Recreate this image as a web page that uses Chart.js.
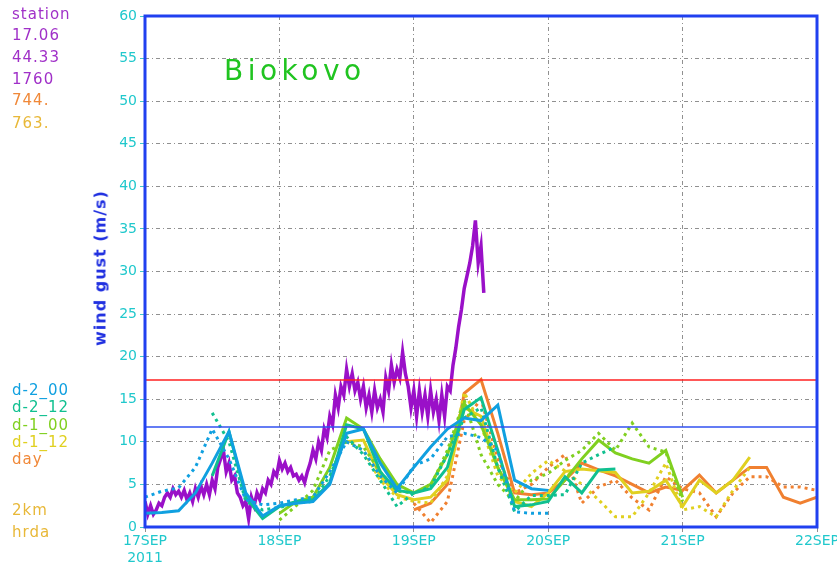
<!DOCTYPE html>
<html>
<head>
<meta charset="utf-8">
<script src="https://cdn.jsdelivr.net/npm/chart.js@4.4.1/dist/chart.umd.min.js"></script>
<style>
body { margin: 0; background: #fff; }
#wrap { position: relative; width: 837px; height: 563px; overflow: hidden; }
canvas { position: absolute; left: 0; top: 0; }
.lbl { position: absolute; font-family: 'DejaVu Sans', sans-serif; font-size: 15px; letter-spacing: 1px; line-height: 18px; white-space: nowrap; }
#title { position: absolute; left: 224px; top: 54px; font-family: 'DejaVu Sans', sans-serif; font-size: 28px; letter-spacing: 4.5px; color: #20c420; }
#ytitle { position: absolute; left: 100px; top: 268px; transform: translate(-50%, -50%) rotate(-90deg); font-family: 'DejaVu Sans', sans-serif; font-weight: bold; font-size: 16px; letter-spacing: 1px; color: #2030e0; white-space: nowrap; }
</style>
</head>
<body>
<div id="wrap">
  <canvas id="chart" width="837" height="563"></canvas>
  <div id="title">Biokovo</div>
  <div id="ytitle">wind gust (m/s)</div>
  <div class="lbl" style="left:12px;top:5px;color:#a030c8">station</div>
  <div class="lbl" style="left:12px;top:26px;color:#a030c8">17.06</div>
  <div class="lbl" style="left:12px;top:48px;color:#a030c8">44.33</div>
  <div class="lbl" style="left:12px;top:70px;color:#a030c8">1760</div>
  <div class="lbl" style="left:12px;top:91px;color:#f08838">744.</div>
  <div class="lbl" style="left:12px;top:114px;color:#e8b838">763.</div>
  <div class="lbl" style="left:12px;top:381px;color:#10a0e0">d-2_00</div>
  <div class="lbl" style="left:12px;top:398px;color:#10c090">d-2_12</div>
  <div class="lbl" style="left:12px;top:416px;color:#80d020">d-1_00</div>
  <div class="lbl" style="left:12px;top:433px;color:#e0d020">d-1_12</div>
  <div class="lbl" style="left:12px;top:450px;color:#f08838">day</div>
  <div class="lbl" style="left:12px;top:501px;color:#e8b838">2km</div>
  <div class="lbl" style="left:12px;top:523px;color:#e8b838">hrda</div>
</div>
<script>
// axis labels
const dayLabels = ['17SEP', '18SEP', '19SEP', '20SEP', '21SEP', '22SEP'];
const yearLabel = '2011';

// warning thresholds (m/s)
const redLevel = [17.25, 17.25];
const blueLevel = [11.75, 11.75];
const levelHours = [0, 120];

// station gusts, every 30 min from 17SEP 00
const stationGust = [
  3.0, 1.5, 2.5, 1.5, 2.0, 2.8, 2.5, 3.5, 4.0, 3.5,
  4.5, 3.8, 4.2, 3.5, 4.3, 3.2, 4.0, 3.0, 4.5, 3.5,
  4.8, 3.8, 5.0, 3.8, 5.5, 4.5, 7.0, 8.0, 9.0, 6.5,
  7.5, 5.5, 6.0, 4.0, 3.5, 2.5, 3.0, 1.0, 3.5, 2.5,
  4.0, 3.2, 4.5, 4.0, 5.5, 5.0, 6.5, 6.0, 7.8, 6.8,
  7.5, 6.5, 7.0, 6.0, 6.2, 5.5, 6.0, 5.2, 6.5, 7.5,
  9.0, 8.0, 10.0, 9.0, 11.5, 10.5, 13.0, 12.0, 15.5, 14.0,
  16.5, 15.5, 18.5, 16.5, 18.0, 16.0, 17.0, 15.0, 16.5, 14.0,
  15.5, 13.5, 16.0, 14.0, 15.0, 13.5, 17.5, 16.0, 19.0, 17.0,
  18.5, 17.5, 20.5, 18.0, 16.5, 14.0, 16.0, 13.0, 16.0, 13.5,
  15.5, 13.0, 16.0, 13.5, 15.0, 12.5, 15.5, 13.0, 16.5, 16.0,
  19.0, 21.0, 23.5, 25.5, 28.0, 29.5, 31.0, 33.0, 36.0, 31.0,
  33.0, 27.5
];

// model runs, 3-hourly values; start hour counted from 17SEP 00
const runStart = [0, 12, 24, 36, 48];
const d2_00_2km  = [1.6, 1.7, 1.9, 4.0, 7.5, 11.2, 4.0, 1.3, 2.5, 2.8, 3.0, 5.0, 11.0, 11.5, 7.5, 4.5, 7.0, 9.4, 11.5, 12.8, 12.5, 14.3, 5.5, 4.5, 4.3];
const d2_00_hrda = [3.5, 4.2, 4.6, 7.0, 11.5, 8.0, 3.2, 2.6, 2.8, 3.2, 3.5, 6.5, 10.0, 9.0, 6.0, 4.0, 7.2, 8.0, 10.6, 11.0, 10.5, 9.0, 1.8, 1.6, 1.6];
const d2_12_2km  = [6.0, 11.2, 3.5, 1.0, 2.4, 3.0, 3.2, 5.2, 12.0, 11.5, 6.5, 4.3, 4.0, 4.5, 7.0, 13.8, 15.2, 9.0, 2.4, 2.6, 3.0, 5.9, 4.0, 6.7, 6.8];
const d2_12_hrda = [13.4, 10.0, 3.0, 2.0, 2.3, 2.8, 3.0, 6.0, 10.6, 8.5, 5.5, 2.4, 4.0, 4.7, 8.5, 12.8, 14.0, 7.0, 1.8, 3.7, 3.7, 3.8, 7.5, 8.5, 9.4];
const d1_00_2km  = [1.6, 3.0, 3.5, 7.0, 12.8, 11.5, 8.0, 5.0, 4.0, 5.0, 8.5, 14.5, 12.0, 7.0, 3.2, 3.2, 3.3, 5.5, 8.0, 10.2, 8.7, 8.0, 7.5, 9.0, 3.5];
const d1_00_hrda = [0.8, 2.5, 4.3, 9.0, 10.0, 9.4, 6.5, 4.2, 4.0, 4.8, 9.0, 14.9, 8.5, 5.0, 3.0, 5.5, 6.3, 7.8, 9.0, 11.0, 9.0, 12.2, 9.4, 8.8, 3.0];
const d1_12_2km  = [10.0, 10.2, 6.0, 3.8, 3.2, 3.5, 5.5, 14.0, 13.0, 7.0, 3.0, 2.4, 4.0, 6.5, 6.8, 6.6, 6.4, 4.0, 4.2, 5.5, 2.4, 5.5, 4.0, 5.5, 8.2];
const d1_12_hrda = [10.0, 9.0, 5.5, 3.5, 3.0, 2.8, 6.0, 15.8, 12.0, 6.0, 4.0, 6.3, 7.8, 6.6, 5.0, 3.2, 1.2, 1.2, 4.0, 7.5, 2.0, 2.4, 1.2, 4.3, 7.0];
const day_2km    = [2.0, 2.8, 5.0, 15.7, 17.3, 11.0, 4.0, 3.8, 4.0, 5.5, 7.5, 6.7, 6.0, 5.0, 4.0, 4.7, 4.3, 6.1, 4.0, 5.5, 7.0, 7.0, 3.5, 2.8, 3.5];
const day_hrda   = [2.8, 0.5, 3.0, 12.5, 15.0, 8.0, 4.0, 5.0, 7.0, 8.5, 2.8, 4.7, 5.5, 3.4, 2.0, 5.9, 4.5, 4.0, 1.2, 4.0, 5.9, 5.9, 4.7, 4.7, 4.3];

const runColors = ['#10a0e0', '#10c090', '#80d020', '#e0d020', '#f08030'];

function toPoints(values, start, step) {
    return values.map((v, i) => ({ x: start + i * step, y: v }));
}

function runSet(values, idx, dotted) {
    return {
        data: toPoints(values, runStart[idx], 3),
        borderColor: runColors[idx],
        borderWidth: 3,
        borderDash: dotted ? [3, 4] : [],
        pointRadius: 0,
        tension: 0,
        order: 2
    };
}

const datasets = [
    runSet(d2_00_2km, 0, false), runSet(d2_00_hrda, 0, true),
    runSet(d2_12_2km, 1, false), runSet(d2_12_hrda, 1, true),
    runSet(d1_00_2km, 2, false), runSet(d1_00_hrda, 2, true),
    runSet(d1_12_2km, 3, false), runSet(d1_12_hrda, 3, true),
    runSet(day_2km, 4, false), runSet(day_hrda, 4, true),
    {
        data: toPoints(stationGust, 0, 0.5),
        borderColor: '#9a10c8',
        borderWidth: 3.5,
        pointRadius: 0,
        order: 3
    },
    {
        data: levelHours.map((h, i) => ({ x: h, y: redLevel[i] })),
        borderColor: '#ff2020',
        borderWidth: 1.5,
        pointRadius: 0,
        order: 1
    },
    {
        data: levelHours.map((h, i) => ({ x: h, y: blueLevel[i] })),
        borderColor: '#3050f0',
        borderWidth: 1.5,
        pointRadius: 0,
        order: 1
    }
];

// blue frame round the plot area
const frame = {
    id: 'frame',
    afterDatasetsDraw(chart) {
        const a = chart.chartArea;
        const ctx = chart.ctx;
        ctx.save();
        ctx.strokeStyle = '#2040f0';
        ctx.lineWidth = 3;
        ctx.strokeRect(a.left, a.top, a.right - a.left, a.bottom - a.top);
        ctx.restore();
    }
};

const tickFont = { family: 'DejaVu Sans', size: 14 };

new Chart(document.getElementById('chart'), {
    type: 'line',
    data: { datasets },
    plugins: [frame],
    options: {
        responsive: false,
        animation: false,
        layout: { padding: { top: 16, right: 20, left: 0, bottom: 0 } },
        plugins: { legend: { display: false }, tooltip: { enabled: false } },
        scales: {
            x: {
                type: 'linear',
                min: 0,
                max: 120,
                afterFit(scale) { scale.height = 36; scale.paddingLeft = 0; scale.paddingRight = 0; },
                ticks: {
                    stepSize: 24,
                    color: '#20c8cc',
                    font: tickFont,
                    padding: 1,
                    maxRotation: 0,
                    autoSkip: false,
                    callback: (v) => {
                        const i = Math.round(v / 24);
                        return i === 0 ? [dayLabels[0], yearLabel] : dayLabels[i];
                    }
                },
                grid: { color: '#909090', lineWidth: 1, tickLength: 5, tickColor: '#909090' },
                border: { display: false, dash: [4, 3, 1, 3] }
            },
            y: {
                min: 0,
                max: 60,
                afterFit(scale) { scale.width = 145; },
                ticks: { stepSize: 5, color: '#20c8cc', font: tickFont, padding: 3 },
                grid: { color: '#909090', lineWidth: 1, tickLength: 5, tickColor: '#40c8cc' },
                border: { display: false, dash: [4, 3, 1, 3] }
            }
        }
    }
});
</script>
</body>
</html>
